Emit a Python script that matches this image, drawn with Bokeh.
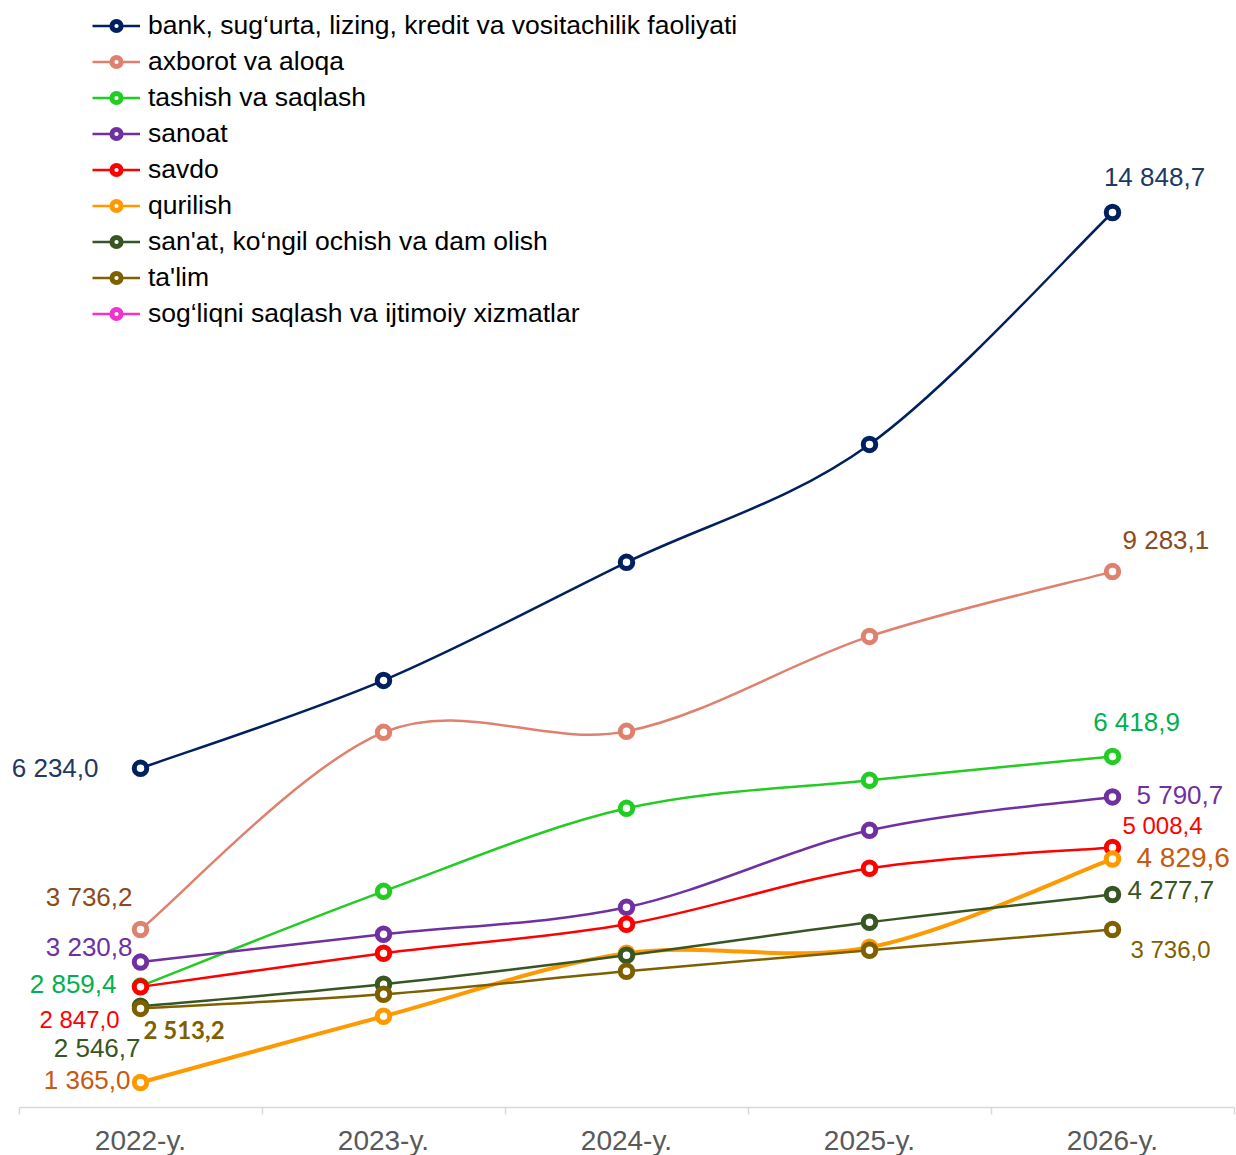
from bokeh.plotting import figure
from bokeh.models import Range1d, FixedTicker, Legend, LegendItem, ColumnDataSource, Label
from bokeh.embed import file_html
from bokeh.resources import INLINE

# ---------------- data ----------------
years = ["2022-y.", "2023-y.", "2024-y.", "2025-y.", "2026-y."]

names = [
    "bank, sug\u2018urta, lizing, kredit va vositachilik faoliyati",
    "axborot va aloqa",
    "tashish va saqlash",
    "sanoat",
    "savdo",
    "qurilish",
    "san'at, ko\u2018ngil ochish va dam olish",
    "ta'lim",
    "sog\u2018liqni saqlash va ijtimoiy xizmatlar",
]

bank = [6234.0, 7597.0, 9426.0, 11254.0, 14848.7]
axborot = [3736.2, 6792.0, 6807.0, 8279.0, 9283.1]
tashish = [2859.4, 4328.0, 5614.0, 6048.0, 6418.9]
sanoat = [3230.8, 3662.0, 4080.0, 5273.0, 5790.7]
savdo = [2847.0, 3368.0, 3817.0, 4685.0, 5008.4]
qurilish = [1365.0, 2391.0, 3368.0, 3461.0, 4829.6]
sanat = [2546.7, 2887.0, 3337.0, 3848.0, 4277.7]
talim = [2513.2, 2732.0, 3089.0, 3414.0, 3736.0]
sogliq = []  # no values shown in the chart

series = [bank, axborot, tashish, sanoat, savdo, qurilish, sanat, talim, sogliq]

# ---------------- styles ----------------
line_colors = ["#002060", "#E0806F", "#22CC22", "#7030A0", "#FF0000",
               "#FF9900", "#375623", "#7F6000", "#F033CC"]
label_colors = ["#203864", "#8C4A1E", "#00B050", "#7030A0", "#FF0000",
                "#C55A11", "#375623", "#7F6000", "#F033CC"]
line_widths = [2.5, 2.5, 2.5, 2.5, 2.5, 4, 2.5, 2.5, 2.5]

# label style per series: (first point style, last point style)
# each: (x_offset px, y_offset px downward, align, font_size, bold)
label_styles = [
    ((-42, 0, "right", "26px", False), (42, -35, "center", "26px", False)),
    ((-8, -32, "right", "26px", False), (10, -32, "left", "26px", False)),
    ((-24, -2, "right", "26px", False), (24, -34, "center", "26px", False)),
    ((-8, -15, "right", "26px", False), (24, -2, "left", "26px", False)),
    ((-21, 33, "right", "24px", False), (10, -22, "left", "24px", False)),
    ((-10, -2, "right", "26px", False), (24, -1, "left", "28px", False)),
    ((0, 42, "right", "26px", False), (15, -5, "left", "26px", False)),
    ((3, 21, "left", "24px", True), (18, 20, "left", "24px", False)),
    (None, None),
]

FONT = "Liberation Sans"
NAN = float("nan")


def fmt(v):
    return f"{v:,.1f}".replace(",", " ").replace(".", ",")


def smooth_segments(xs, ys):
    n = len(xs)
    seg = dict(x0=[], y0=[], x1=[], y1=[], cx0=[], cy0=[], cx1=[], cy1=[])
    for i in range(n - 1):
        im1 = max(i - 1, 0)
        ip2 = min(i + 2, n - 1)
        seg["x0"].append(xs[i]); seg["y0"].append(ys[i])
        seg["x1"].append(xs[i + 1]); seg["y1"].append(ys[i + 1])
        seg["cx0"].append(xs[i] + (xs[i + 1] - xs[im1]) / 6)
        seg["cy0"].append(ys[i] + (ys[i + 1] - ys[im1]) / 6)
        seg["cx1"].append(xs[i + 1] - (xs[ip2] - xs[i]) / 6)
        seg["cy1"].append(ys[i + 1] - (ys[ip2] - ys[i]) / 6)
    return seg


xpos = [i + 0.5 for i in range(len(years))]

PX_PER_CAT = 243.0
FRAME_W = 1236
FRAME_H = 1099
X0 = 0.5 - 140 / PX_PER_CAT  # so the first category centre lands at x=140 px

p = figure(
    frame_width=FRAME_W, frame_height=FRAME_H,
    x_range=Range1d(X0, X0 + FRAME_W / PX_PER_CAT),
    y_range=Range1d(977.5, 18010),
    y_axis_location=None,
    output_backend="svg", toolbar_location=None,
    min_border_left=0, min_border_right=0, min_border_top=8, min_border_bottom=0,
)
p.outline_line_color = None
p.xgrid.visible = False
p.ygrid.visible = False
p.background_fill_color = "white"
p.border_fill_color = "white"

ax = p.xaxis[0]
ax.bounds = (0, len(years))
ax.ticker = FixedTicker(ticks=xpos, minor_ticks=list(range(len(years) + 1)))
ax.major_label_overrides = {x: y for x, y in zip(xpos, years)}
ax.major_tick_line_color = None
ax.major_tick_out = 0
ax.major_tick_in = 0
ax.minor_tick_line_color = "#D9D9D9"
ax.minor_tick_line_width = 1.5
ax.minor_tick_out = 7
ax.minor_tick_in = 0
ax.axis_line_color = "#D9D9D9"
ax.axis_line_width = 1.5
ax.major_label_text_font = FONT
ax.major_label_text_font_size = "28px"
ax.major_label_text_color = "#595959"
ax.major_label_standoff = 10

items = []
for k, (name, vals) in enumerate(zip(names, series)):
    xs = xpos[:len(vals)]
    col = line_colors[k]
    if len(vals) > 1:
        seg = smooth_segments(xs, vals)
        p.bezier(x0="x0", y0="y0", x1="x1", y1="y1", cx0="cx0", cy0="cy0",
                 cx1="cx1", cy1="cy1", source=ColumnDataSource(seg),
                 line_color=col, line_width=line_widths[k])
    # legend-only line sample (single NaN row so nothing is drawn in the plot)
    lr = p.line(x=[NAN], y=[NAN], line_color=col, line_width=2.5)
    sx = xs if vals else [NAN]
    sy = list(vals) if vals else [NAN]
    sr = p.scatter(x=sx, y=sy, size=12.5, marker="circle",
                   fill_color="white", line_color=col, line_width=5)
    items.append(LegendItem(label=name, renderers=[lr, sr]))

    if vals:
        for idx, st in ((0, label_styles[k][0]), (len(vals) - 1, label_styles[k][1])):
            if st is None:
                continue
            xo, yo, al, fs, bold = st
            p.add_layout(Label(
                x=xs[idx], y=vals[idx], text=fmt(vals[idx]),
                x_offset=xo, y_offset=-yo, text_align=al, text_baseline="middle",
                text_font="Lato" if bold else FONT,
                text_font_style="bold" if bold else "normal",
                text_font_size=fs, text_color=label_colors[k]))

ROW_H = 35
SPACING = 1
leg_h = len(items) * ROW_H + (len(items) - 1) * SPACING
legend = Legend(
    items=items,
    location=(92, FRAME_H - leg_h),
    glyph_width=48, glyph_height=23, label_height=ROW_H,
    spacing=SPACING, padding=0, margin=0,
    label_standoff=8,
    label_text_font=FONT, label_text_font_size="26.5px", label_text_color="#000000",
    background_fill_alpha=0, border_line_color=None,
)
p.add_layout(legend)

open("out.html", "w").write(file_html(p, INLINE))
